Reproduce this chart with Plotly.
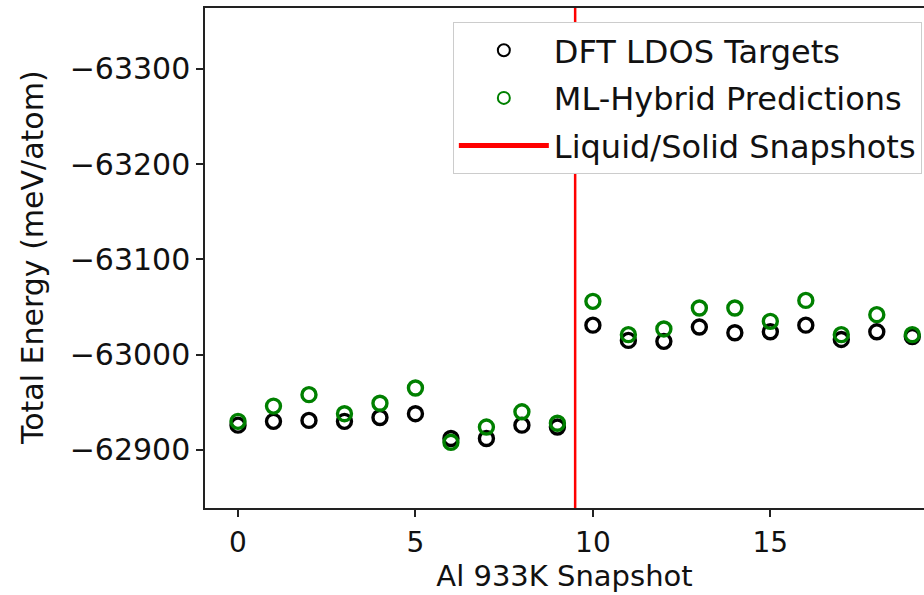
import plotly.graph_objects as go

snapshots = list(range(20))
dft_targets = [-62926, -62930, -62931, -62930, -62934, -62938, -62912, -62912, -62926, -62924,
               -63031, -63015, -63014, -63029, -63023, -63024, -63031, -63016, -63024, -63019]
ml_hybrid = [-62930, -62946, -62958, -62938, -62949, -62965, -62908, -62924, -62940, -62928,
             -63056, -63021, -63027, -63049, -63049, -63035, -63057, -63021, -63042, -63021]
divider_x = 9.5
y_ticks = [-63300, -63200, -63100, -63000, -62900]
x_ticks = [0, 5, 10, 15]

FONT = "DejaVu Sans"
FS = 30

fig = go.Figure()
fig.add_trace(go.Scatter(
    x=snapshots, y=dft_targets, mode="markers", name="DFT LDOS Targets", legendgroup="a",
    marker=dict(symbol="circle-open", size=14, color="black", line=dict(width=3.4, color="black")),
))
fig.add_trace(go.Scatter(
    x=snapshots, y=ml_hybrid, mode="markers", name="ML-Hybrid Predictions", legendgroup="b",
    marker=dict(symbol="circle-open", size=14, color="#008000", line=dict(width=3.4, color="#008000")),
))
fig.add_shape(type="line", x0=divider_x, x1=divider_x, xref="x", yref="paper", y0=0, y1=1,
              line=dict(color="red", width=2.5), showlegend=True, name="Liquid/Solid Snapshots",
              legendgroup="c", layer="below")

fig.add_annotation(
    text="Total Energy (meV/atom)", textangle=-90, xref="paper", yref="paper",
    x=-0.2406, y=0.5, xanchor="center", yanchor="middle", showarrow=False,
    font=dict(family=FONT, size=FS, color="#111"),
)

fig.update_layout(
    width=924, height=595,
    margin=dict(l=205, r=0, t=8, b=87),
    paper_bgcolor="white", plot_bgcolor="white",
    font=dict(family=FONT, size=FS, color="#111"),
    showlegend=True,
    legend=dict(
        x=0.997, y=0.972, xanchor="right", yanchor="top",
        bgcolor="white", bordercolor="#cccccc", borderwidth=1,
        font=dict(family=FONT, size=32, color="#111"),
        itemsizing="constant", tracegroupgap=3, itemwidth=90,
    ),
    xaxis=dict(
        range=[-0.93, 19.33], tickvals=x_ticks, ticks="outside", ticklen=7, tickwidth=1.5,
        tickcolor="#222", showline=True, linecolor="#222", linewidth=1.5, mirror=True,
        showgrid=False, zeroline=False, ticklabelstandoff=2,
        title=dict(text="Al 933K Snapshot", standoff=0, font=dict(family=FONT, size=29)),
        tickfont=dict(family=FONT, size=28),
    ),
    yaxis=dict(
        range=[-62839, -63364], tickvals=y_ticks, ticktext=[f"\u2212{abs(v)}" for v in y_ticks],
        ticks="outside", ticklen=7, tickwidth=1.5, tickcolor="#222",
        showline=True, linecolor="#222", linewidth=1.5, mirror=False,
        showgrid=False, zeroline=False,
        tickfont=dict(family=FONT, size=FS),
    ),
)

fig.write_html("out.html")
